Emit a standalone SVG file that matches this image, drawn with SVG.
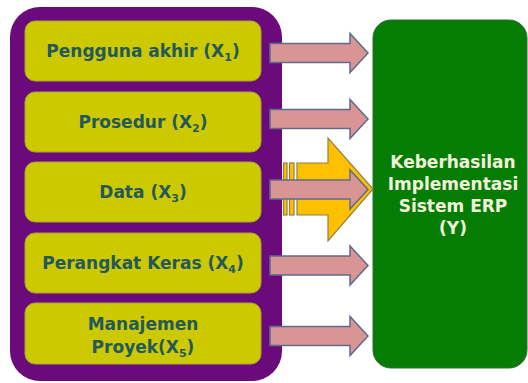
<svg xmlns="http://www.w3.org/2000/svg" width="528" height="383" viewBox="0 0 528 383">
  <style>
    .factor { fill: #CCC900; stroke: #A8A330; stroke-width: 1; }
    .label { font-family: "DejaVu Sans", Verdana, sans-serif; font-weight: bold; font-size: 17px; fill: #23585C; text-anchor: middle; }
    .sub { font-size: 11px; }
    .result-text { font-family: "DejaVu Sans", Verdana, sans-serif; font-weight: bold; font-size: 17px; fill: #F2F2DC; text-anchor: middle; }
    .flow { fill: #D99594; stroke: #5F6B8A; stroke-width: 1.5; stroke-linejoin: miter; }
    .big { fill: #FFC000; stroke: #8C7F4A; stroke-width: 1.2; }
  </style>
  <defs>
    <!-- pink block arrow, tail at x=0, centred on y=0 -->
    <path id="flowArrow" d="M0,-9.5 H80 V-19.5 L98,0 L80,19.5 V9.5 H0 Z"/>
  </defs>

  <rect width="528" height="383" fill="#FFFFFF"/>

  <!-- container holding the factors -->
  <g id="factors-panel">
    <rect x="10" y="7" width="272" height="374" rx="30" fill="#6B0A7B"/>
  </g>

  <g id="x1">
    <rect class="factor" x="25" y="21" width="236" height="60" rx="10"/>
    <text class="label" x="143" y="57">Pengguna akhir (X<tspan class="sub" dy="4">1</tspan><tspan dy="-4">)</tspan></text>
  </g>
  <g id="x2">
    <rect class="factor" x="25" y="92" width="236" height="60" rx="10"/>
    <text class="label" x="143" y="128">Prosedur (X<tspan class="sub" dy="4">2</tspan><tspan dy="-4">)</tspan></text>
  </g>
  <g id="x3">
    <rect class="factor" x="25" y="162" width="236" height="60" rx="10"/>
    <text class="label" x="143" y="198">Data (X<tspan class="sub" dy="4">3</tspan><tspan dy="-4">)</tspan></text>
  </g>
  <g id="x4">
    <rect class="factor" x="25" y="233" width="236" height="60" rx="10"/>
    <text class="label" x="143" y="269">Perangkat Keras (X<tspan class="sub" dy="4">4</tspan><tspan dy="-4">)</tspan></text>
  </g>
  <g id="x5">
    <rect class="factor" x="25" y="303" width="236" height="61" rx="10"/>
    <text class="label" x="143" y="330">Manajemen</text>
    <text class="label" x="143" y="353">Proyek(X<tspan class="sub" dy="4">5</tspan><tspan dy="-4">)</tspan></text>
  </g>

  <g id="y-result">
    <rect x="373" y="20" width="154" height="348" rx="18" fill="#057D05" stroke="#2F6A3A" stroke-width="1"/>
    <text class="result-text" x="453" y="168">Keberhasilan</text>
    <text class="result-text" x="453" y="190">Implementasi</text>
    <text class="result-text" x="453" y="212">Sistem ERP</text>
    <text class="result-text" x="453" y="234">(Y)</text>
  </g>

  <g id="connectors">
    <!-- striped combined arrow behind the individual arrows -->
    <g id="combined">
      <rect class="big" x="283.5" y="163" width="3.5" height="52"/>
      <rect class="big" x="289.5" y="163" width="4.5" height="52"/>
      <path class="big" d="M297,163 H328 V138 L373,189 L328,241 V215 H297 Z"/>
    </g>
    <use href="#flowArrow" class="flow" x="270" y="53"/>
    <use href="#flowArrow" class="flow" x="270" y="119"/>
    <use href="#flowArrow" class="flow" x="270" y="189.5"/>
    <use href="#flowArrow" class="flow" x="270" y="265.5"/>
    <use href="#flowArrow" class="flow" x="270" y="336"/>
  </g>
</svg>
